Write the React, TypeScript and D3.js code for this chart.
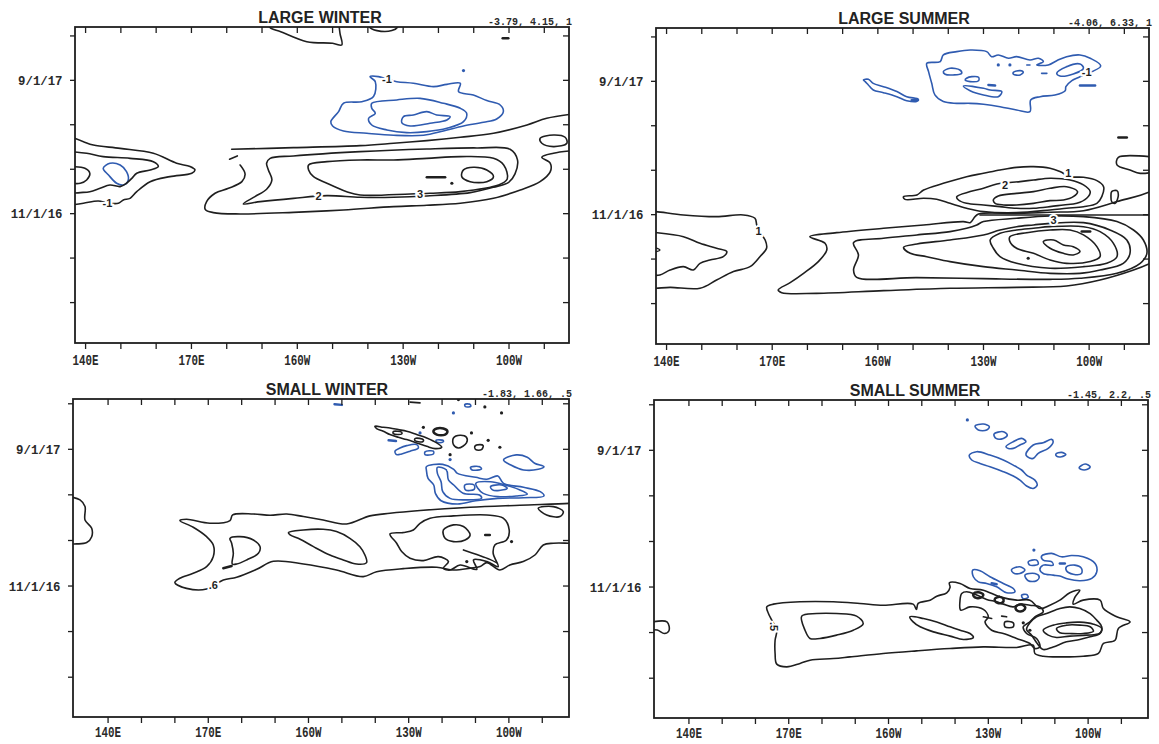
import React from 'react';
import * as d3 from 'd3';

// [longitude in degrees east (0-360), months since 1 Jan 2016]
type Pt = [number, number];
type Layer = { pts: Pt[]; closed?: boolean; neg?: boolean; heavy?: boolean };
type Label = { text: string; at: Pt; rot?: number };

const INK = '#1f1f1f';
const BLUE = '#2f5bb0';

// ---- axes
const lonTicks = [140, 150, 160, 170, 180, 190, 200, 210, 220, 230, 240, 250, 260, 270];
const lonLabels: [number, string][] = [[140, '140E'], [170, '170E'], [200, '160W'], [230, '130W'], [260, '100W']];
const timeTicks = [3.33, 6.67, 10, 13.33, 16.67, 20, 23.33];
const timeLabels: [number, string][] = [[10, '11/1/16'], [20, '9/1/17']];
const largeLon: [number, number] = [137, 277];
const smallLon: [number, number] = [129.5, 278];
const largeTime: [number, number] = [0.3, 24];
const smallTime: [number, number] = [0.42, 23.68];

const titles = ['LARGE WINTER', 'LARGE SUMMER', 'SMALL WINTER', 'SMALL SUMMER'];
const ranges = ['-3.79, 4.15, 1', '-4.06, 6.33, 1', '-1.83, 1.66, .5', '-1.45, 2.2, .5'];

// ================= LARGE WINTER =================
const lwNeg1: Pt[] = [[220.6,20.28],[222.1,19.9],[221.6,18.78],[218.3,18.4],[213.1,18.28],[211.7,17.65],[209.5,16.9],[210.0,16.58],[213.1,16.2],[219.7,16.03],[227.3,15.88],[235.8,15.88],[241.4,16.2],[247.1,16.58],[252.8,16.85],[256.5,17.1],[258.4,17.65],[257.5,18.15],[253.7,18.48],[249.9,18.9],[245.7,19.15],[246.2,19.78],[242.4,19.7],[238.6,19.53],[232.9,19.78],[228.2,19.9],[225.4,20.08],[223.0,20.28]];
const lwNeg2: Pt[] = [[221.1,18.28],[228.2,18.53],[234.8,18.65],[241.4,18.28],[246.2,17.9],[248.0,17.53],[247.1,16.9],[242.4,16.4],[236.7,16.15],[231.0,16.08],[225.4,16.28],[221.1,16.65],[220.2,17.15],[222.1,17.53],[221.1,17.9]];
const lwNeg3: Pt[] = [[230.1,17.28],[232.9,17.4],[236.7,17.65],[239.5,17.4],[243.3,17.28],[242.4,17.03],[237.6,16.78],[232.0,16.58],[229.6,16.83]];
const lwNegWest: Pt[] = [[145,13.4],[146.9,13.78],[149.8,13.65],[151.6,13.15],[152.1,12.53],[150.7,12.15],[148.8,12.28],[146.5,12.9]];
const lwTopA: Pt[] = [[191.8,24.6],[192.2,23.98],[195.3,23.65],[202.7,22.9],[210.0,22.78],[212.6,22.65],[212.1,23.53],[211.6,24.6]];
const lwTopB: Pt[] = [[220.3,24.6],[220.5,23.98],[222.6,23.73],[226.8,23.73],[228.4,23.98],[228.6,24.6]];
const lwWestA: Pt[] = [[136,15.75],[139.4,15.4],[142.2,15.15],[149.8,14.9],[159.2,14.53],[165.8,13.78],[169.6,13.53],[171,13.28],[170.1,13.03],[163.9,12.78],[158.3,12.4],[154.5,11.65],[152.6,11.15],[150.7,11.03],[149.3,10.78],[146.2,10.8],[143.6,10.95],[139.4,10.78],[136,10.65]];
const lwWestB: Pt[] = [[136,14.65],[140.3,14.53],[145,14.28],[152.6,14.15],[159.2,13.9],[160.6,13.53],[158.3,13.28],[154.5,13.03],[153.1,12.65],[151.6,12.28],[149.8,12.03],[146.9,12.15],[144.1,11.9],[141.2,11.65],[138.5,11.58],[136,11.53]];
const lwWestC: Pt[] = [[136,13.53],[139.8,13.4],[141.2,13.03],[140.3,12.53],[138.5,12.28],[136,12.28]];
const lwBandTop: Pt[] = [[278.3,17.48],[270.7,17.15],[265.1,16.65],[255.6,16.03],[246.2,15.73],[236.7,15.48],[227.3,15.28],[217.8,15.1],[198.9,14.95],[181.4,14.83]];
const lwBandDash: Pt[] = [[180.8,14.08],[183.0,14.33]];
const lwBandOuter: Pt[] = [[183.8,13.65],[185.2,12.98],[184.3,12.4],[180.5,11.9],[176.7,11.53],[174.3,10.9],[173.9,10.33],[176.2,10.08],[183.8,9.98],[198.9,10.1],[213.1,10.28],[227.3,10.53],[236.7,10.63],[246.2,10.78],[255.6,11.15],[263.2,11.78],[268.8,12.4],[271.7,13.15],[271.7,13.78],[269.3,14.23],[272.6,14.53],[278.3,14.73]];
const lwBand2: Pt[] = [[192.3,14.15],[198.9,14.33],[217.8,14.65],[236.7,14.85],[250.9,14.93],[260.3,14.83],[262.4,14.03],[261.7,12.98],[259.9,12.35],[255.6,11.98],[249.0,11.58],[236.7,11.33],[227.3,11.23],[217.8,11.23],[208.4,11.35],[198.9,11.15],[189.5,10.9],[184.7,10.73],[188.0,11.28],[191.3,11.83],[192.8,12.53],[191.8,13.28],[191.3,13.78]];
const lwBand3: Pt[] = [[203.2,13.65],[208.4,13.9],[217.8,14.03],[227.3,14.03],[236.7,14.15],[246.2,14.28],[255.6,14.15],[258.5,13.65],[259.5,12.6],[257.0,12.15],[246.2,11.65],[237.6,11.53],[232.0,11.48],[217.8,11.4],[214.0,11.65],[208.4,12.28],[204.6,12.78],[203.2,13.28]];
const lwCore: Pt[] = [[247.1,13.28],[249.9,13.48],[253.7,13.28],[255.6,12.78],[253.7,12.4],[249.0,12.4],[246.6,12.78]];
const lwEastRing: Pt[] = [[268.8,15.65],[272.6,15.9],[275.9,15.73],[276.4,15.28],[272.6,15.03],[269.3,15.28]];
const lwStreak: Pt[] = [[236.7,12.73],[241.9,12.73]];
const lwTopDash: Pt[] = [[258.2,23.15],[259.8,23.15]];
const lwDots: Pt[] = [[243.8,12.28]];
const lwNegDots: Pt[] = [[247.1,20.73]];
const lwLabels: Label[] = [{ text: '-1', at: [225.4,20.1] }, { text: '-1', at: [146.2,10.8] }, { text: '2', at: [206.0,11.3] }, { text: '3', at: [234.8,11.45] }];

// ================= LARGE SUMMER =================
const lsNegMain: Pt[] = [[213.9,21.35],[217.7,21.48],[218.6,21.98],[222.4,22.23],[226.2,22.35],[230.9,22.23],[232.3,21.85],[234.2,21.98],[237.1,21.73],[239.4,21.85],[243.2,21.6],[245.6,21.73],[247.0,21.48],[245.1,21.23],[248.4,21.23],[250.8,21.55],[253.6,21.85],[257.4,21.98],[260.3,21.73],[263.3,21.15],[257.4,20.35],[255.1,20.05],[253.4,19.6],[253.2,19.3],[250.3,18.98],[246.1,18.85],[243.4,18.6],[243.2,17.73],[239.4,17.85],[234.7,18.1],[230.0,18.28],[226.2,18.35],[222.4,18.35],[218.6,18.48],[216.2,18.98],[215.3,19.85],[214.4,20.73]];
const lsNegA: Pt[] = [[218.6,20.73],[220.5,20.98],[223.3,20.85],[223.8,20.6],[221.5,20.48],[219.1,20.53]];
const lsNegB: Pt[] = [[225.2,20.23],[226.7,20.35],[228.6,20.3],[228.6,20.05],[226.2,19.98],[224.8,20.1]];
const lsNegC: Pt[] = [[224.3,19.65],[230.0,19.48],[231.9,19.35],[235.2,19.23],[234.2,18.85],[230.0,18.98],[226.2,19.3]];
const lsNegE: Pt[] = [[238.5,20.68],[240.4,20.8],[241.3,20.68],[240.4,20.48],[238.5,20.53]];
const lsNegF: Pt[] = [[250.8,20.6],[253.6,21.1],[257.4,21.3],[258.4,20.98],[255.5,20.55],[251.7,20.4]];
const lsNegWest: Pt[] = [[195.9,20.1],[197.3,20.15],[198.7,19.85],[201.6,19.6],[205.4,19.23],[208.2,18.85],[211.5,18.65],[211.1,18.5],[208.2,18.55],[205.4,18.85],[201.6,19.15],[198.7,19.35],[197.3,19.73],[196.4,19.98]];
const lsNegBlobA: Pt[] = [[231.4,19.73],[233.3,19.68]];
const lsNegBlobB: Pt[] = [[257.4,19.68],[261.7,19.68]];
const lsNegBlobC: Pt[] = [[209.6,18.58],[211.4,18.6]];
const lsNegDashA: Pt[] = [[246.5,20.6],[248.0,20.6]];
const lsNegDashB: Pt[] = [[242.3,21.23],[243.2,21.23]];
const lsNegDots: Pt[] = [[237.5,21.23],[234.2,21.23]];
const lsWestOuter: Pt[] = [[135,10.25],[137.0,10.23],[144.8,9.98],[154.2,9.85],[161.8,9.98],[165.1,9.73],[165.6,9.23],[166.1,8.8],[168.0,8.1],[168.4,7.48],[166.5,6.85],[163.7,6.1],[159.0,5.73],[154.2,5.1],[149.5,4.48],[141.0,4.55],[137.0,4.48],[135,4.48]];
const lsWestInner: Pt[] = [[135,8.68],[137.0,8.65],[144.8,8.35],[149.5,7.85],[154.2,7.48],[157.1,7.23],[156.1,6.85],[152.3,6.6],[149.5,6.35],[147.6,5.85],[144.8,6.1],[141.0,5.85],[138.1,5.48],[135,5.48]];
const lsWestBump: Pt[] = [[135,7.65],[138.1,7.35],[135,7.1]];
const lsEastEdge: Pt[] = [[279,14.3],[268.3,14.3],[267.9,13.73],[271.6,13.35],[274.5,13.1],[279,13.23]];
const lsEastRing: Pt[] = [[266.4,11.73],[267.9,11.8],[268.3,11.48],[267.4,10.85],[266.4,10.98],[266.2,11.35]];
const lsEastBlob: Pt[] = [[268.3,15.78],[270.7,15.78]];
const lsUpper1: Pt[] = [[207.3,11.35],[211.1,11.48],[213.0,11.85],[218.6,12.35],[225.2,12.85],[230.0,13.1],[234.7,13.35],[239.4,13.55],[244.2,13.6],[248.9,13.48],[251.7,13.23],[254.6,12.85],[258.4,12.8],[262.2,12.55],[264.1,12.1],[263.6,11.35],[262.2,10.85],[258.4,10.6],[253.6,10.48],[248.9,10.35],[239.4,10.15],[230.0,10.23],[225.2,10.48],[220.5,10.85],[216.7,11.15],[213.0,11.23],[207.7,11.15]];
const lsUpper2: Pt[] = [[222.4,11.35],[226.2,11.73],[230.0,11.98],[233.8,12.3],[240.4,12.48],[244.2,12.6],[248.9,12.73],[254.6,12.6],[258.4,12.23],[260.3,11.73],[259.3,11.23],[256.5,10.85],[252.7,10.73],[248.9,10.6],[244.2,10.48],[239.4,10.48],[234.7,10.6],[230.0,10.73],[225.2,10.85],[222.9,11.1]];
const lsUpper3: Pt[] = [[232.8,11.1],[234.2,11.4],[239.4,11.6],[244.2,11.73],[248.9,11.98],[253.6,12.1],[256.7,11.73],[255.5,11.35],[252.7,11.1],[248.9,11.05],[244.2,10.85],[239.4,10.73],[235.7,10.73],[233.3,10.85]];
const lsLower1: Pt[] = [[279,12.1],[277.3,11.73],[267.9,10.98],[258.4,10.3],[248.9,10.18],[239.4,10.1],[228.6,10.05],[227.6,9.85],[226.2,9.4],[224.3,9.48],[213.0,9.23],[201.6,8.98],[188.3,8.65],[180.7,8.35],[185.0,7.85],[185.5,7.35],[183.1,6.48],[178.9,5.6],[175.1,4.9],[171.7,4.35],[172.7,4.15],[182.6,4.1],[201.6,4.3],[220.5,4.48],[239.4,4.55],[253.6,4.65],[263.1,5.1],[272.6,5.85],[277.3,6.35],[279,6.6]];
const lsLower2: Pt[] = [[193.1,7.9],[201.6,8.23],[211.1,8.48],[220.5,8.73],[225.2,8.98],[228.1,9.23],[230.0,9.48],[239.4,9.73],[248.9,9.9],[258.4,9.85],[267.9,9.48],[272.6,8.85],[275.4,8.1],[276.4,7.1],[274.5,6.35],[267.9,5.6],[257.4,5.23],[248.9,5.15],[230.0,5.2],[211.1,5.28],[194.0,5.3],[193.1,5.85],[194.5,6.98]];
const lsLower3: Pt[] = [[207.3,7.55],[211.1,7.8],[220.5,8.1],[230.0,8.48],[234.7,8.85],[239.4,9.1],[244.2,9.23],[248.9,9.35],[258.4,9.4],[265.9,8.85],[270.7,8.1],[271.6,7.1],[269.7,6.35],[263.1,5.85],[257.4,5.6],[248.9,5.6],[239.4,5.85],[230.0,6.1],[220.5,6.48],[213.9,6.85],[209.2,7.1]];
const lsLower4: Pt[] = [[231.9,8.1],[234.7,8.6],[239.4,8.85],[244.2,8.98],[248.9,9.1],[258.4,9.1],[263.1,8.73],[266.9,7.85],[267.9,6.85],[265.0,6.35],[258.4,6.1],[248.9,5.98],[239.4,6.35],[234.7,6.85],[232.8,7.48]];
const lsLower5: Pt[] = [[237.5,8.35],[242.3,8.65],[248.9,8.85],[254.6,8.85],[258.4,8.48],[262.2,7.6],[263.1,6.85],[260.3,6.48],[253.6,6.35],[248.9,6.6],[244.2,7.1],[239.4,7.48],[237.5,7.98]];
const lsLower6: Pt[] = [[247.0,7.98],[249.9,8.1],[252.7,7.73],[255.5,7.6],[257.4,7.23],[255.5,6.98],[252.7,7.1],[248.9,7.48]];
const lsSeam: Pt[] = [[229.0,9.98],[279,9.98]];
const lsCoreDash: Pt[] = [[257.9,8.73],[260.3,8.73]];
const lsDots: Pt[] = [[242.7,6.73]];
const lsLabels: Label[] = [{ text: '-1', at: [259.3,20.73] }, { text: '1', at: [166.1,8.8] }, { text: '1', at: [254.1,13.15] }, { text: '2', at: [236.1,12.25] }, { text: '3', at: [249.9,9.6] }];

// ================= SMALL WINTER =================
const swWestEdge: Pt[] = [[127,16.6],[131.6,16.3],[133.1,15.81],[133.1,14.83],[135.1,14.22],[135.1,13.61],[133.6,13.18],[130.6,13.08],[127,13.1]];
const swBand: Pt[] = [[161.5,14.79],[163.5,14.88],[170.5,14.59],[176.5,14.79],[177.3,15.2],[183.5,15.27],[188.5,15.18],[193.5,15.27],[198.5,15.08],[204.4,14.83],[211.4,14.54],[218.4,15.13],[224.4,15.32],[233.4,15.52],[248.4,15.76],[263.3,15.91],[278.3,16.05],[281,16.1],[281,13.13],[278.3,13.13],[273.3,13.13],[270.3,13.0],[267.8,12.27],[264.3,11.79],[260.3,11.54],[257.3,11.17],[253.4,11.71],[251.4,11.42],[248.4,11.3],[243.4,11.17],[238.4,11.37],[228.4,11.27],[220.4,11.05],[216.4,10.69],[208.4,11.17],[198.5,11.61],[189.5,11.81],[184.5,11.22],[178.5,10.64],[174.5,10.44],[169.5,9.78],[163.5,9.83],[160.0,10.25],[161.5,10.57],[165.5,10.93],[169.5,11.42],[171.5,12.15],[171.5,13.0],[169.5,13.61],[165.5,14.3]];
const swInnerA: Pt[] = [[176.5,13.49],[179.5,13.61],[183.5,13.37],[185.5,12.88],[185.0,12.39],[181.5,11.91],[178.5,11.61],[177.2,11.61],[177.5,12.39],[177.0,13.13]];
const swInnerB: Pt[] = [[194.0,13.91],[198.5,14.1],[204.4,14.15],[208.4,13.98],[212.4,13.49],[215.4,12.88],[216.9,12.27],[217.4,11.71],[214.4,11.61],[210.4,11.91],[206.4,12.27],[201.5,12.88],[197.5,13.42],[194.5,13.74]];
const swLobe: Pt[] = [[224.4,13.81],[228.4,13.91],[231.4,14.1],[233.4,14.59],[236.4,14.96],[243.4,15.13],[253.4,15.2],[258.3,14.96],[260.1,14.1],[259.3,13.37],[255.8,13.0],[255.3,12.39],[256.8,11.42],[253.4,11.79],[249.4,11.91],[250.4,11.22],[245.4,11.54],[242.4,11.17],[240.4,11.3],[241.9,11.79],[238.9,12.15],[234.4,11.86],[230.4,12.03],[227.9,12.52],[226.4,13.13]];
const swLobeCore: Pt[] = [[240.4,14.1],[243.4,14.47],[246.4,14.35],[248.4,13.74],[246.9,13.37],[243.4,13.25],[240.9,13.49]];
const swStreak: Pt[] = [[246.4,12.64],[250.4,12.3],[254.3,11.95],[256.3,11.71]];
const swEastRing: Pt[] = [[268.8,15.69],[273.3,15.81],[276.3,15.44],[275.3,15.08],[271.3,15.2]];
const swBlobA: Pt[] = [[174.5,11.3],[177.0,11.47]];
const swBlobB: Pt[] = [[252.9,13.74],[254.3,13.74]];
const swCluster: Pt[] = [[219.9,21.69],[222.4,21.61],[224.4,21.56],[226.9,21.44],[229.4,21.32],[232.4,21.08],[235.4,20.83],[238.4,20.47],[239.9,20.15],[237.9,20.05],[235.4,20.22],[232.4,20.47],[229.4,20.71],[226.9,20.88],[224.4,21.08],[222.4,21.32],[220.4,21.52]];
const swHole1: Pt[] = [[225.4,21.3],[227.9,21.25],[227.9,21.12],[225.4,21.15]];
const swHole2: Pt[] = [[232.0,20.8],[234.4,20.7],[234.2,20.55],[231.8,20.65]];
const swK1: Pt[] = [[237.4,21.32],[238.4,21.52],[240.4,21.52],[241.6,21.32],[240.9,21.08],[238.4,21.08]];
const swK2: Pt[] = [[243.4,20.83],[245.4,21.03],[247.3,20.88],[247.3,20.47],[244.9,20.1],[243.4,20.34]];
const swK3: Pt[] = [[249.8,20.22],[251.3,20.34],[252.3,20.27],[251.8,19.98],[250.1,19.98]];
const swTopLine: Pt[] = [[230.4,23.45],[233.4,23.4]];
const swDots: Pt[] = [[260.8,13.25],[247.4,11.79],[234.4,21.61],[242.4,19.61],[248.8,21.2],[253.8,20.66],[257.3,20.15],[252.8,23.1],[257.8,22.66],[244.9,23.64]];
const swNegB1: Pt[] = [[235.3,18.73],[240.2,18.9],[243.5,18.54],[244.6,18.24],[250.1,17.95],[253.4,17.81],[256.7,18.05],[258.4,17.51],[264.4,17.22],[269.4,16.9],[270.5,16.59],[264.4,16.46],[256.7,16.41],[250.1,16.24],[244.6,16.0],[239.7,16.24],[238.0,16.78],[237.5,17.39],[235.8,17.88],[235.3,18.49]];
const swNegB2: Pt[] = [[238.6,18.68],[241.3,18.49],[241.9,17.76],[243.5,17.39],[246.3,16.78],[251.2,16.66],[251.8,16.41],[246.8,16.3],[242.4,16.41],[240.2,16.9],[239.7,17.63],[238.6,18.24]];
const swNegB3: Pt[] = [[250.1,17.51],[254.5,17.63],[258.9,17.39],[263.3,17.03],[265.5,16.73],[262.2,16.59],[256.7,16.54],[252.3,16.78],[250.7,17.15]];
const swNegB4: Pt[] = [[254.5,17.27],[257.8,17.39],[259.5,17.15],[256.7,16.98],[255.1,17.03]];
const swNegB5: Pt[] = [[246.8,17.39],[249.6,17.39],[249.6,17.07],[247.0,17.03]];
const swNegT: Pt[] = [[258.4,19.22],[262.2,19.59],[265.5,19.42],[267.7,18.98],[270.5,18.73],[268.8,18.54],[264.4,18.49],[260.6,18.85]];
const swNegS: Pt[] = [[248.5,18.68],[251.2,18.73],[251.8,18.56],[249.0,18.49]];
const swNegBU: Pt[] = [[225.9,19.86],[227.4,20.1],[229.4,20.27],[232.4,20.34],[232.9,20.1],[230.4,19.86],[227.9,19.66],[226.4,19.61]];
const swNegS2: Pt[] = [[234.9,19.81],[237.4,19.86],[237.4,19.66],[234.9,19.61]];
const swNegS3: Pt[] = [[246.8,23.28],[248.3,23.3],[248.6,23.15],[247.0,23.12]];
const swNegS4: Pt[] = [[238.2,20.66],[240.4,20.64],[240.2,20.52],[238.4,20.52]];
const swNegBlobA: Pt[] = [[207.8,23.3],[210.0,23.25]];
const swNegBlobB: Pt[] = [[224.0,20.66],[226.2,20.6]];
const swNegDots: Pt[] = [[243.4,22.66],[233.4,21.2],[242.4,19.25]];
const swLabels: Label[] = [{ text: '.6', at: [171.5,10.1] }];

// ================= SMALL SUMMER =================
const ssNeg1: Pt[] = [[226.0,21.78],[228.5,21.92],[230.3,21.73],[229.5,21.48],[227.0,21.48]];
const ssNeg2: Pt[] = [[231.7,21.19],[234.5,21.36],[235.7,21.12],[234.5,20.87],[232.3,20.87]];
const ssNeg3: Pt[] = [[235.3,20.26],[237.5,20.63],[240.0,20.87],[241.3,20.63],[239.5,20.39],[237.5,20.14],[236.0,20.14]];
const ssNeg4: Pt[] = [[241.3,19.73],[243.5,20.39],[246.5,20.56],[249.0,20.8],[249.5,20.63],[248.0,20.14],[245.0,19.78],[243.5,19.41],[241.7,19.53]];
const ssNeg5: Pt[] = [[250.3,19.73],[252.0,19.85],[253.3,19.7],[252.0,19.53],[250.5,19.58]];
const ssNeg6: Pt[] = [[257.3,18.73],[259.1,19.0],[260.6,18.8],[259.8,18.61],[257.8,18.61]];
const ssNegLong: Pt[] = [[224.3,19.65],[226.5,19.9],[230.5,19.65],[234.5,19.29],[237.5,18.92],[240.0,18.56],[241.5,18.19],[244.0,17.82],[244.7,17.46],[243.5,17.21],[241.5,17.39],[239.5,17.82],[237.5,18.12],[234.5,18.44],[230.5,18.8],[227.5,19.04],[225.0,19.29]];
const ssNegLowLong: Pt[] = [[225.3,11.24],[227.5,11.19],[230.5,10.75],[234.5,10.26],[237.5,9.89],[238.0,9.65],[235.5,9.58],[232.5,10.02],[229.5,10.26],[227.0,10.38],[225.5,10.75]];
const ssNegLowA: Pt[] = [[242.0,11.85],[244.5,11.97],[245.0,11.68],[242.5,11.6]];
const ssNegLowB: Pt[] = [[237.0,11.28],[239.5,11.48],[241.0,11.24],[239.5,10.99],[237.5,11.04]];
const ssNegLowC: Pt[] = [[241.0,10.87],[244.0,10.99],[245.3,10.75],[244.5,10.46],[242.0,10.46]];
const ssNegLowBig: Pt[] = [[246.0,12.26],[249.0,12.46],[252.0,12.21],[255.0,12.31],[258.5,12.21],[262.1,11.72],[262.6,11.11],[261.1,10.63],[257.6,10.46],[254.0,10.58],[251.5,10.8],[249.5,10.87],[246.5,10.99],[245.5,11.28],[246.5,11.6],[249.5,11.6],[249.0,11.85],[246.5,11.97]];
const ssNegLowCore: Pt[] = [[253.5,11.48],[256.0,11.6],[258.0,11.36],[258.0,10.99],[255.5,10.94],[253.5,11.19]];
const ssNegTiny: Pt[] = [[240.0,9.4],[241.5,9.45],[242.0,9.25],[240.5,9.15]];
const ssNegBlobA: Pt[] = [[251.5,11.72],[253.0,11.72]];
const ssNegBlobB: Pt[] = [[231.0,10.28],[232.5,10.2]];
const ssNegDots: Pt[] = [[223.7,22.22],[243.7,12.7]];
const ssWestEdge: Pt[] = [[128,7.4],[133.4,7.45],[134.0,6.8],[132.6,6.6],[130.5,6.85],[128,6.85]];
const ssBand: Pt[] = [[163.4,8.55],[165.4,8.75],[173.4,8.92],[183.4,8.92],[191.4,8.8],[198.4,8.67],[207.4,8.75],[208.4,8.36],[208.9,8.8],[212.5,9.04],[214.5,9.33],[217.5,9.58],[218.5,9.97],[218.3,10.31],[221.5,10.26],[224.5,9.89],[228.5,9.77],[233.5,9.28],[238.5,9.04],[242.5,9.04],[245.5,8.43],[248.5,8.67],[251.5,9.04],[254.5,9.58],[257.5,9.77],[256.0,9.24],[255.5,8.75],[258.5,9.04],[263.6,9.04],[264.6,8.43],[268.6,7.82],[272.6,7.45],[269.1,6.97],[268.1,6.11],[264.6,5.87],[263.1,5.14],[258.5,4.94],[252.5,4.89],[246.5,4.94],[244.0,5.14],[243.5,5.75],[238.5,5.58],[228.5,5.62],[218.5,5.5],[208.4,5.33],[198.4,5.14],[188.4,4.89],[183.4,4.77],[176.4,4.65],[173.4,4.41],[169.4,4.16],[166.4,4.36],[165.9,5.14],[165.9,6.11],[166.4,6.84],[164.9,7.58],[163.9,8.06]];
const ssInnerL: Pt[] = [[173.9,7.87],[178.4,8.06],[184.4,8.06],[190.4,7.87],[192.4,7.33],[189.4,6.84],[184.4,6.48],[179.4,6.24],[176.4,6.24],[174.9,6.84]];
const ssInnerE: Pt[] = [[206.4,7.82],[210.5,7.7],[214.5,7.45],[218.5,7.09],[221.5,6.84],[224.5,6.6],[225.5,6.31],[222.5,6.16],[218.5,6.41],[213.5,6.72],[209.5,7.09],[207.4,7.45]];
const ssTangle: Pt[] = [[221.7,8.31],[224.5,8.55],[228.5,8.36],[230.0,7.82],[229.0,7.45],[231.0,6.84],[234.5,6.6],[238.5,6.24],[242.5,5.87],[244.0,5.5],[245.5,5.62],[244.5,6.24],[241.5,6.6],[240.5,7.09],[242.5,7.45],[244.0,7.82],[246.5,8.19],[245.5,8.55],[242.5,8.67],[239.5,8.75],[237.5,8.55],[234.5,8.75],[232.5,8.92],[229.5,9.09],[226.5,9.41],[223.5,9.65],[222.0,9.53],[221.5,9.04]];
const ssEastA: Pt[] = [[244.5,7.82],[247.5,8.06],[251.5,8.43],[254.5,8.55],[257.5,8.43],[260.6,8.06],[262.6,7.58],[264.1,7.09],[263.6,6.6],[260.6,6.36],[257.5,6.16],[253.5,5.99],[249.5,5.62],[246.5,5.43],[244.7,5.87],[243.0,6.48],[241.5,6.89],[242.5,7.38]];
const ssEastB: Pt[] = [[246.5,6.84],[249.5,7.21],[253.5,7.38],[257.5,7.43],[261.6,7.28],[264.1,6.97],[263.4,6.6],[259.6,6.48],[254.5,6.41],[250.5,6.31],[248.0,6.48]];
const ssEastC: Pt[] = [[250.5,6.97],[253.5,7.21],[257.5,7.21],[260.6,7.09],[261.6,6.77],[258.5,6.6],[254.5,6.6],[251.5,6.65]];
const ssKnot1: Pt[] = [[225.5,9.5],[227.0,9.62],[228.5,9.45],[228.0,9.25],[226.5,9.2],[225.6,9.32]];
const ssKnot2: Pt[] = [[232.0,9.15],[233.5,9.28],[234.6,9.08],[234.2,8.86],[232.7,8.84],[232.0,8.98]];
const ssKnot3: Pt[] = [[238.4,8.6],[240.0,8.72],[241.1,8.5],[240.4,8.26],[238.8,8.26],[238.2,8.42]];
const ssSmallRing: Pt[] = [[235.0,7.45],[237.5,7.38],[237.5,7.09],[235.0,7.09]];
const ssDashA: Pt[] = [[228.5,7.82],[231.0,7.7]];
const ssDashB: Pt[] = [[234.0,7.87],[235.5,7.82]];
const ssDots: Pt[] = [[240.5,7.38],[242.5,6.84]];
const ssLabels: Label[] = [{ text: '.5', at: [165.6,7.1], rot: 90 }];

type PanelDef = {
  id: string; title: string; range: string; lon: [number, number]; time: [number, number];
  box: { x0: number; x1: number; y0: number; y1: number; tx: number; ly: number };
  layers: Layer[]; dots: Pt[]; negDots: Pt[]; labels: Label[];
};

const panels: PanelDef[] = [
  {
    id: 'lw', title: titles[0], range: ranges[0], lon: largeLon, time: largeTime,
    box: { x0: 75, x1: 569, y0: 27, y1: 343, tx: 320, ly: 22 },
    layers: [
      { pts: lwNeg1, closed: true, neg: true }, { pts: lwNeg2, closed: true, neg: true },
      { pts: lwNeg3, closed: true, neg: true }, { pts: lwNegWest, closed: true, neg: true },
      { pts: lwTopA }, { pts: lwTopB }, { pts: lwWestA }, { pts: lwWestB }, { pts: lwWestC },
      { pts: lwBandTop }, { pts: lwBandDash }, { pts: lwBandOuter },
      { pts: lwBand2, closed: true }, { pts: lwBand3, closed: true }, { pts: lwCore, closed: true },
      { pts: lwEastRing, closed: true }, { pts: lwStreak, heavy: true }, { pts: lwTopDash, heavy: true },
    ],
    dots: lwDots, negDots: lwNegDots, labels: lwLabels,
  },
  {
    id: 'ls', title: titles[1], range: ranges[1], lon: largeLon, time: largeTime,
    box: { x0: 656, x1: 1149, y0: 28, y1: 344, tx: 904, ly: 22 },
    layers: [
      { pts: lsNegMain, closed: true, neg: true }, { pts: lsNegA, closed: true, neg: true },
      { pts: lsNegB, closed: true, neg: true }, { pts: lsNegC, closed: true, neg: true },
      { pts: lsNegE, closed: true, neg: true }, { pts: lsNegF, closed: true, neg: true },
      { pts: lsNegWest, closed: true, neg: true },
      { pts: lsNegBlobA, neg: true, heavy: true }, { pts: lsNegBlobB, neg: true, heavy: true },
      { pts: lsNegBlobC, neg: true, heavy: true }, { pts: lsNegDashA, neg: true }, { pts: lsNegDashB, neg: true },
      { pts: lsWestOuter }, { pts: lsWestInner }, { pts: lsWestBump }, { pts: lsEastEdge },
      { pts: lsEastRing, closed: true }, { pts: lsEastBlob, heavy: true },
      { pts: lsUpper1, closed: true }, { pts: lsUpper2, closed: true }, { pts: lsUpper3, closed: true },
      { pts: lsLower1 }, { pts: lsLower2, closed: true }, { pts: lsLower3, closed: true },
      { pts: lsLower4, closed: true }, { pts: lsLower5, closed: true }, { pts: lsLower6, closed: true },
      { pts: lsSeam }, { pts: lsCoreDash, heavy: true },
    ],
    dots: lsDots, negDots: lsNegDots, labels: lsLabels,
  },
  {
    id: 'sw', title: titles[2], range: ranges[2], lon: smallLon, time: smallTime,
    box: { x0: 73, x1: 569, y0: 399, y1: 717, tx: 327, ly: 20 },
    layers: [
      { pts: swWestEdge }, { pts: swBand, closed: true }, { pts: swInnerA, closed: true },
      { pts: swInnerB, closed: true }, { pts: swLobe, closed: true }, { pts: swLobeCore, closed: true },
      { pts: swStreak }, { pts: swEastRing, closed: true }, { pts: swBlobA, heavy: true }, { pts: swBlobB, heavy: true },
      { pts: swNegB1, closed: true, neg: true }, { pts: swNegB2, closed: true, neg: true },
      { pts: swNegB3, closed: true, neg: true }, { pts: swNegB4, closed: true, neg: true },
      { pts: swNegB5, closed: true, neg: true }, { pts: swNegT, closed: true, neg: true },
      { pts: swNegS, closed: true, neg: true }, { pts: swNegBU, closed: true, neg: true },
      { pts: swNegS2, closed: true, neg: true }, { pts: swNegS3, closed: true, neg: true },
      { pts: swNegS4, closed: true, neg: true },
      { pts: swNegBlobA, neg: true, heavy: true }, { pts: swNegBlobB, neg: true, heavy: true },
      { pts: swCluster, closed: true }, { pts: swHole1, closed: true }, { pts: swHole2, closed: true },
      { pts: swK1, closed: true, heavy: true }, { pts: swK2, closed: true }, { pts: swK3, closed: true },
      { pts: swTopLine },
    ],
    dots: swDots, negDots: swNegDots, labels: swLabels,
  },
  {
    id: 'ss', title: titles[3], range: ranges[3], lon: smallLon, time: smallTime,
    box: { x0: 654, x1: 1148, y0: 400, y1: 718, tx: 915, ly: 20 },
    layers: [
      { pts: ssNeg1, closed: true, neg: true }, { pts: ssNeg2, closed: true, neg: true },
      { pts: ssNeg3, closed: true, neg: true }, { pts: ssNeg4, closed: true, neg: true },
      { pts: ssNeg5, closed: true, neg: true }, { pts: ssNeg6, closed: true, neg: true },
      { pts: ssNegLong, closed: true, neg: true }, { pts: ssNegLowLong, closed: true, neg: true },
      { pts: ssNegLowA, closed: true, neg: true }, { pts: ssNegLowB, closed: true, neg: true },
      { pts: ssNegLowC, closed: true, neg: true }, { pts: ssNegLowBig, closed: true, neg: true },
      { pts: ssNegLowCore, closed: true, neg: true }, { pts: ssNegTiny, closed: true, neg: true },
      { pts: ssNegBlobA, neg: true, heavy: true }, { pts: ssNegBlobB, neg: true, heavy: true },
      { pts: ssWestEdge }, { pts: ssBand, closed: true }, { pts: ssInnerL, closed: true },
      { pts: ssInnerE, closed: true }, { pts: ssTangle, closed: true }, { pts: ssEastA, closed: true },
      { pts: ssEastB, closed: true }, { pts: ssEastC, closed: true },
      { pts: ssKnot1, closed: true, heavy: true }, { pts: ssKnot2, closed: true, heavy: true },
      { pts: ssKnot3, closed: true, heavy: true }, { pts: ssSmallRing, closed: true },
      { pts: ssDashA }, { pts: ssDashB },
    ],
    dots: ssDots, negDots: ssNegDots, labels: ssLabels,
  },
];

const MONO = '"Liberation Mono", "DejaVu Sans Mono", monospace';
const SANS = '"Liberation Sans", Arial, sans-serif';

function Panel({ p }: { p: PanelDef }) {
  const { x0, x1, y0, y1, tx, ly } = p.box;
  const x = d3.scaleLinear().domain(p.lon).range([x0, x1]);
  const y = d3.scaleLinear().domain(p.time).range([y1, y0]);
  const openLine = d3.line<Pt>().x(d => x(d[0])).y(d => y(d[1])).curve(d3.curveCatmullRom.alpha(0.5));
  const ringLine = d3.line<Pt>().x(d => x(d[0])).y(d => y(d[1])).curve(d3.curveCatmullRomClosed.alpha(0.5));
  const clip = `clip-${p.id}`;
  const xTicks = lonTicks.filter(t => t > p.lon[0] && t < p.lon[1]);

  return (
    <g>
      <defs>
        <clipPath id={clip}>
          <rect x={x0} y={y0} width={x1 - x0} height={y1 - y0} />
        </clipPath>
      </defs>
      <g clipPath={`url(#${clip})`}>
        {p.layers.map((l, i) => (
          <path
            key={i}
            d={(l.closed ? ringLine : openLine)(l.pts) || ''}
            fill="none"
            stroke={l.neg ? BLUE : INK}
            strokeWidth={l.heavy ? 2.5 : 1.6}
            strokeLinejoin="round"
            strokeLinecap="round"
          />
        ))}
        {p.dots.map((d, i) => <circle key={'d' + i} cx={x(d[0])} cy={y(d[1])} r={1.6} fill={INK} />)}
        {p.negDots.map((d, i) => <circle key={'n' + i} cx={x(d[0])} cy={y(d[1])} r={1.6} fill={BLUE} />)}
        {p.labels.map((lb, i) => {
          const cx = x(lb.at[0]);
          const cy = y(lb.at[1]);
          return (
            <text
              key={'l' + i}
              x={cx}
              y={cy}
              dy="0.36em"
              textAnchor="middle"
              fontFamily={SANS}
              fontWeight="bold"
              fontSize={11}
              fill={INK}
              stroke="#fff"
              strokeWidth={4}
              style={{ paintOrder: 'stroke' }}
              transform={lb.rot ? `rotate(${lb.rot} ${cx} ${cy})` : undefined}
            >
              {lb.text}
            </text>
          );
        })}
      </g>

      <rect x={x0} y={y0} width={x1 - x0} height={y1 - y0} fill="none" stroke={INK} strokeWidth={1.8} />

      <g stroke={INK} strokeWidth={1.3}>
        {xTicks.map(t => (
          <g key={'xt' + t}>
            <line x1={x(t)} x2={x(t)} y1={y1} y2={y1 + 6} />
            <line x1={x(t)} x2={x(t)} y1={y0} y2={y0 + 6} />
          </g>
        ))}
        {timeTicks.map(t => (
          <g key={'yt' + t}>
            <line x1={x0 - 5} x2={x0} y1={y(t)} y2={y(t)} />
            <line x1={x1 - 6} x2={x1} y1={y(t)} y2={y(t)} />
          </g>
        ))}
      </g>

      {lonLabels.map(([v, s]) => (
        <text
          key={'xl' + v}
          x={x(v)}
          y={y1 + ly}
          textAnchor="middle"
          fontFamily={MONO}
          fontWeight="bold"
          fontSize={14}
          textLength={26}
          lengthAdjust="spacingAndGlyphs"
          fill="#2a2a2a"
        >
          {s}
        </text>
      ))}
      {timeLabels.map(([v, s]) => (
        <text
          key={'yl' + v}
          x={x0 - 12.5}
          y={y(v)}
          dy="0.36em"
          textAnchor="end"
          fontFamily={MONO}
          fontWeight="bold"
          fontSize={13}
          textLength={s.length * 7.4}
          lengthAdjust="spacingAndGlyphs"
          fill="#2a2a2a"
        >
          {s}
        </text>
      ))}

      <text x={tx} y={y0 - 4.5} textAnchor="middle" fontFamily={SANS} fontWeight="bold" fontSize={16} fill="#222">
        {p.title}
      </text>
      <text x={x1 + 3} y={y0 - 2.5} textAnchor="end" fontFamily={MONO} fontWeight="bold" fontSize={10} fill="#2a2a2a">
        {p.range}
      </text>
    </g>
  );
}

export default function App() {
  return (
    <svg
      width={1159}
      height={744}
      viewBox="0 0 1159 744"
      style={{ position: 'absolute', left: 0, top: 0, background: '#fff' }}
    >
      <rect width={1159} height={744} fill="#fff" />
      {panels.map(p => <Panel key={p.id} p={p} />)}
    </svg>
  );
}
